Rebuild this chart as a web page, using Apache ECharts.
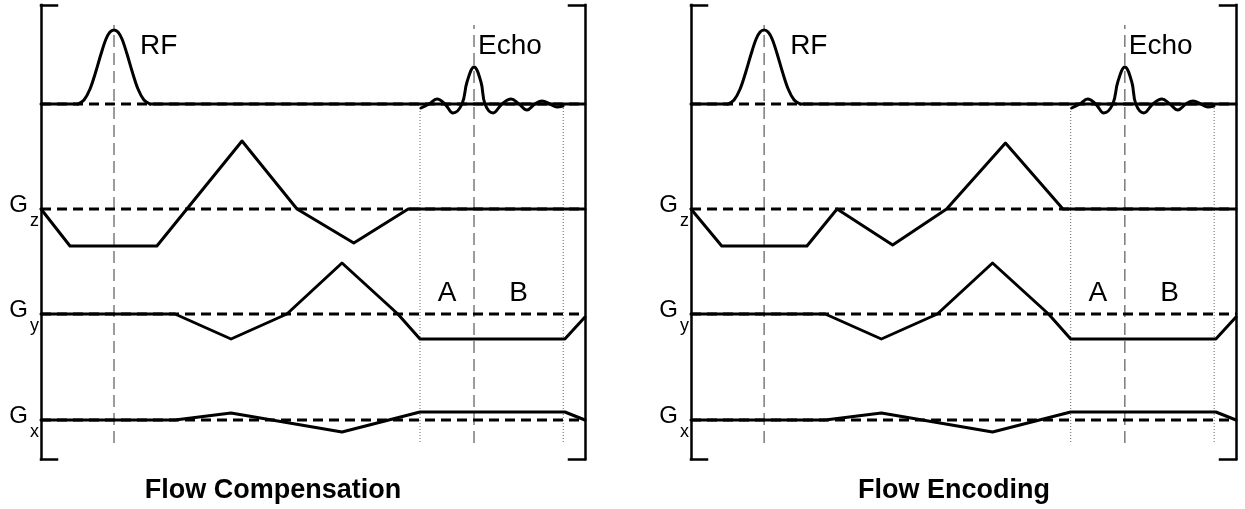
<!DOCTYPE html>
<html>
<head>
<meta charset="utf-8">
<script src="https://cdn.jsdelivr.net/npm/echarts@6/dist/echarts.min.js"></script>
<style>
  html, body { margin: 0; padding: 0; background: #fff; }
  #chart { width: 1245px; height: 509px; }
</style>
</head>
<body>
<div id="chart"></div>
<script>
// ---- Sequence timing (0..100 = one repetition window) and amplitudes ----
const timeRange = [0, 100];

// RF excitation pulse
const rfPulseT   = [6.80, 7.90, 9.01, 10.11, 11.03, 11.95, 12.68, 13.42, 14.15, 14.89, 15.81, 16.73, 17.83, 18.93, 20.04];
const rfPulseAmp = [0, 4, 15, 33, 50, 65, 72, 74, 72, 65, 50, 33, 15, 4, 0];
const rfCenter = 13.42;

// Received echo
const echoT   = [69.85, 71.32, 72.79, 74.26, 75.74, 77.39, 78.31, 79.60, 80.88, 81.62, 83.09, 84.74, 86.40, 87.87, 89.34, 90.81, 92.10, 93.57, 94.85, 95.96];
const echoAmp = [-4, 0, 5, 0, -9, 0, 22, 37, 22, 0, -9, 0, 5, 0, -6, 0, 3, 0, -3, -2];
const echoCenter = 79.6;

// Readout window (A = before echo centre, B = after)
const readoutWindow = [69.67, 96.0];

// Slice-select gradient: flow compensated vs flow encoded
const gzCompT   = [0, 5.33, 21.3, 36.95, 47.06, 57.5, 67.5, 100];
const gzCompAmp = [0, -37, -37, 68, 0, -34, 0, 0];
const gzEncT    = [0, 5.64, 21.27, 26.8, 37.0, 46.9, 57.7, 68.25, 100];
const gzEncAmp  = [0, -37, -37, 0, -36, 0, 66, 0, 0];

// Phase-encode gradient
const gyT   = [0, 24.63, 34.93, 45.2, 55.33, 65.6, 69.67, 96.3, 100];
const gyAmp = [0, 0, -25, 0, 51, 0, -25, -25, -3];

// Frequency-encode gradient
const gxT   = [0, 24.63, 34.93, 55.33, 69.67, 96.3, 100];
const gxAmp = [0, 0, 7, -12, 8, 8, 0];

const panelTitles = ['Flow Compensation', 'Flow Encoding'];
const channelLabels = [['G', 'z'], ['G', 'y'], ['G', 'x']];
const segmentLabels = ['A', 'B'];

// ---- Layout ----
const FONT = '"Liberation Sans", Arial, Helvetica, sans-serif';
const panels = [
  { left: 41,  width: 544, titleX: 268, gz: [gzCompT, gzCompAmp] },
  { left: 691, width: 545, titleX: 949, gz: [gzEncT, gzEncAmp] }
];
const rows = {
  bracket: { top: 5,   height: 454, min: 0,   max: 1 },
  rf:      { top: 20,  height: 100, min: -16, max: 84 },
  gz:      { top: 130, height: 125, min: -46, max: 79 },
  gy:      { top: 255, height: 95,  min: -36, max: 59 },
  gx:      { top: 395, height: 50,  min: -25, max: 25 },
  dash:    { top: 25,  height: 418, min: 0,   max: 1 },
  dot:     { top: 106, height: 336, min: 0,   max: 1 }
};

const grid = [], xAxis = [], yAxis = [], series = [];
const idx = [];   // idx[panel][row] -> grid / axis index

const zip = (xs, ys) => xs.map((x, i) => [x, ys[i]]);
const WAVE = { color: '#000', width: 3, join: 'round', cap: 'round' };
const BASE_DASH = { color: '#000', width: 3, type: [10, 6] };

function addLine(gi, data, lineStyle, extra) {
  series.push(Object.assign({
    type: 'line', xAxisIndex: gi, yAxisIndex: gi, data,
    symbol: 'none', showSymbol: false, silent: true, animation: false,
    lineStyle, z: 3
  }, extra || {}));
}

// one grid per channel row, each with its own time and amplitude axes
panels.forEach((p, pi) => {
  idx[pi] = {};
  Object.keys(rows).forEach(name => {
    const r = rows[name];
    const gi = grid.length;
    idx[pi][name] = gi;
    grid.push({ left: p.left, width: p.width, top: r.top, height: r.height });
    xAxis.push({ type: 'value', gridIndex: gi, min: timeRange[0], max: timeRange[1], show: false });
    yAxis.push({ type: 'value', gridIndex: gi, min: r.min, max: r.max, show: false });
  });
});

// bracket frame: a left and a right axis with inward ticks at both ends
const bracketAxis = (gi, pos) => ({
  type: 'value', gridIndex: gi, min: 0, max: 1, interval: 1, position: pos, show: true,
  axisLine: { show: true, lineStyle: { color: '#000', width: 2.5, cap: 'square' } },
  axisTick: { show: true, inside: true, length: 16, lineStyle: { color: '#000', width: 2.5, cap: 'square' } },
  axisLabel: { show: false }, splitLine: { show: false }
});
panels.forEach((p, pi) => {
  const bi = idx[pi].bracket;
  yAxis[bi] = bracketAxis(bi, 'left');
  idx[pi].bracketRight = yAxis.length;
  yAxis.push(bracketAxis(bi, 'right'));
});

panels.forEach((p, pi) => {
  // timing markers
  const di = idx[pi].dash, oi = idx[pi].dot;
  [rfCenter, echoCenter].forEach(t =>
    addLine(di, [[t, 0], [t, 1]], { color: '#7a7a7a', width: 1.5, type: [12, 6] }, { z: 1 }));
  readoutWindow.forEach(t =>
    addLine(oi, [[t, 0], [t, 1]], { color: '#666', width: 1, type: [1, 2] }, { z: 1 }));

  // RF channel
  const ri = idx[pi].rf;
  addLine(ri, [[timeRange[0], 0], [timeRange[1], 0]], BASE_DASH, { z: 2 });
  addLine(ri, [[timeRange[0], 0], [rfPulseT[0], 0]], WAVE);
  addLine(ri, [[rfPulseT[rfPulseT.length - 1], 0], [timeRange[1], 0]], WAVE);
  addLine(ri, zip(rfPulseT, rfPulseAmp), WAVE, { smooth: 0.35 });
  addLine(ri, zip(echoT, echoAmp), WAVE, { smooth: 0.4 });

  // gradient channels
  [['gz', p.gz[0], p.gz[1]], ['gy', gyT, gyAmp], ['gx', gxT, gxAmp]].forEach(([name, ts, as]) => {
    const gi = idx[pi][name];
    addLine(gi, [[timeRange[0], 0], [timeRange[1], 0]], BASE_DASH, { z: 2 });
    addLine(gi, zip(ts, as), WAVE);
  });
});

const title = panels.map((p, pi) => ({
  text: panelTitles[pi], left: p.titleX, top: 472, textAlign: 'center',
  textStyle: { fontFamily: FONT, fontSize: 27, fontWeight: 'bold', color: '#000' }
}));

const chart = echarts.init(document.getElementById('chart'), null, { renderer: 'canvas' });
chart.setOption({ animation: false, backgroundColor: '#fff', title, grid, xAxis, yAxis, series });

// ---- Text annotations anchored to the plotted data ----
const graphic = [];
const text = (x, y, str, size, align) => graphic.push({
  type: 'text', x, y, silent: true,
  style: { text: str, font: `${size}px ${FONT}`, fill: '#000',
    align, verticalAlign: 'middle', textAlign: align, textVerticalAlign: 'middle' }
});

panels.forEach((p, pi) => {
  const px = (row, pt) => chart.convertToPixel({ xAxisIndex: idx[pi][row], yAxisIndex: idx[pi][row] }, pt);
  const rfPeak = px('rf', [rfCenter, Math.max(...rfPulseAmp)]);
  text(rfPeak[0] + 26, rfPeak[1] + 16, 'RF', 28, 'left');
  const echoPeak = px('rf', [echoCenter, Math.max(...echoAmp)]);
  text(echoPeak[0] + 4, echoPeak[1] - 21, 'Echo', 28, 'left');

  const aPos = px('gy', [(readoutWindow[0] + echoCenter) / 2, 21]);
  const bPos = px('gy', [(echoCenter + readoutWindow[1]) / 2, 21]);
  text(aPos[0], aPos[1], segmentLabels[0], 28, 'center');
  text(bPos[0], bPos[1], segmentLabels[1], 28, 'center');

  ['gz', 'gy', 'gx'].forEach((row, k) => {
    const base = px(row, [timeRange[0], 0]);
    text(base[0] - 13, base[1] - 4, channelLabels[k][0], 24, 'right');
    text(base[0] - 11, base[1] + 12, channelLabels[k][1], 18, 'left');
  });
});
chart.setOption({ graphic });
</script>
</body>
</html>
